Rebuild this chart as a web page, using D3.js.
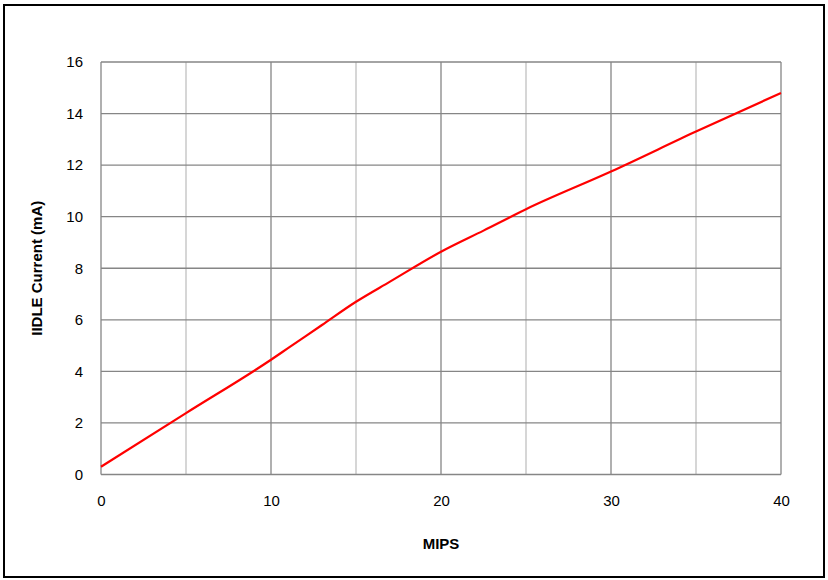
<!DOCTYPE html>
<meta charset="utf-8">
<style>
body { margin: 0; background: #fff; }
text { font-family: "Liberation Sans", Arial, sans-serif; fill: #000; }
</style>
<body>
<svg id="chart" width="828" height="580"></svg>
<script src="https://cdn.jsdelivr.net/npm/d3@7"></script>
<script>
// data
var mips = [0, 5, 10, 11, 13, 15, 17, 20, 22.5, 25, 30, 35, 40];
var idleCurrent = [0.3, 2.38, 4.45, 4.9, 5.8, 6.7, 7.48, 8.64, 9.46, 10.29, 11.75, 13.3, 14.8];
var xTicks = [0, 10, 20, 30, 40];
var xMinor = [5, 15, 25, 35];
var yTicks = [0, 2, 4, 6, 8, 10, 12, 14, 16];

var svg = d3.select("#chart");

// outer frame
svg.append("rect")
  .attr("x", 4).attr("y", 5)
  .attr("width", 820).attr("height", 572)
  .attr("fill", "none").attr("stroke", "#000").attr("stroke-width", 2);

var x = d3.scaleLinear().domain([0, 40]).range([101, 781]);
var y = d3.scaleLinear().domain([0, 16]).range([474.5, 62]);

// minor vertical grid
svg.append("g").selectAll("line")
  .data(xMinor)
  .enter().append("line")
    .attr("x1", function(d) { return x(d); }).attr("x2", function(d) { return x(d); })
    .attr("y1", y(0)).attr("y2", y(16))
    .attr("stroke", "#c0c0c0").attr("stroke-width", 1.3);

// major vertical grid
svg.append("g").selectAll("line")
  .data(xTicks)
  .enter().append("line")
    .attr("x1", function(d) { return x(d); }).attr("x2", function(d) { return x(d); })
    .attr("y1", y(0)).attr("y2", y(16))
    .attr("stroke", "#868686").attr("stroke-width", 1.3);

// horizontal grid
svg.append("g").selectAll("line")
  .data(yTicks)
  .enter().append("line")
    .attr("x1", x(0)).attr("x2", x(40))
    .attr("y1", function(d) { return y(d); }).attr("y2", function(d) { return y(d); })
    .attr("stroke", "#868686").attr("stroke-width", 1.3);

// axes as tick labels only
var xAxis = d3.axisBottom(x).tickValues(xTicks).tickSize(0).tickPadding(21);
svg.append("g")
  .attr("transform", "translate(0," + y(0) + ")")
  .call(xAxis)
  .call(function(g) { g.select(".domain").remove(); })
  .selectAll("text").style("font-size", "15px").attr("font-family", null);

var yAxis = d3.axisLeft(y).tickValues(yTicks).tickSize(0).tickPadding(18);
svg.append("g")
  .attr("transform", "translate(" + x(0) + ",0)")
  .call(yAxis)
  .call(function(g) { g.select(".domain").remove(); })
  .selectAll("text").style("font-size", "15px").attr("font-family", null);

// curve
var line = d3.line()
  .x(function(d, i) { return x(mips[i]); })
  .y(function(d) { return y(d); })
  .curve(d3.curveMonotoneX);

svg.append("path")
  .datum(idleCurrent)
  .attr("d", line)
  .attr("fill", "none")
  .attr("stroke", "#ff0000")
  .attr("stroke-width", 2.2);

// axis titles
svg.append("text")
  .attr("x", x(20)).attr("y", 549)
  .attr("text-anchor", "middle")
  .style("font-size", "15px").style("font-weight", "bold")
  .text("MIPS");

svg.append("text")
  .attr("transform", "translate(42," + y(8) + ") rotate(-90)")
  .attr("text-anchor", "middle")
  .style("font-size", "15px").style("font-weight", "bold")
  .text("IIDLE Current (mA)");
</script>
</body>
